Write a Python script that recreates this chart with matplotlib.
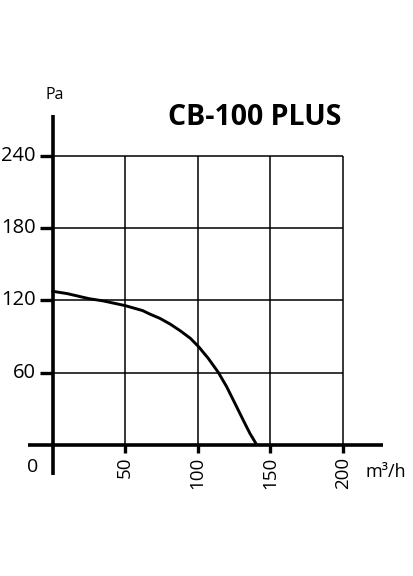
import matplotlib
matplotlib.use("Agg")
import matplotlib.pyplot as plt

# fan curve
flow = [0, 10, 25, 35, 50, 62, 67, 74, 81, 88, 95, 100.7, 107.3, 114.2,
        120, 125.7, 131.4, 136, 140.7]
pressure = [127.5, 125.6, 121.4, 119.5, 115.6, 111.5, 108.6, 105.0, 100.3, 94.7,
            88.4, 81.4, 71.8, 60.2, 48.2, 34.4, 20.5, 9.5, 0]

x_ticks = [50, 100, 150, 200]
y_ticks = [60, 120, 180, 240]
title = "CB-100 PLUS"

plt.rcParams["font.family"] = ["Open Sans", "DejaVu Sans"]

fig = plt.figure(figsize=(4.14, 5.76), dpi=100)
ax = fig.add_axes([0, 0, 1, 1])
ax.set_xlim(-36.3, 249.2)
ax.set_ylim(-109.1, 369.6)
ax.axis("off")

# grid
for xv in x_ticks:
    ax.plot([xv, xv], [0, 240], color="black", lw=1.1, solid_capstyle="butt")
for yv in y_ticks:
    ax.plot([0, 200], [yv, yv], color="black", lw=1.1, solid_capstyle="butt")

# axes lines
ax.plot([0, 0], [-25, 274], color="black", lw=2.6, solid_capstyle="butt")
ax.plot([-17, 228], [0, 0], color="black", lw=2.6, solid_capstyle="butt")

# tick marks
for yv in y_ticks:
    ax.plot([-9, 0], [yv, yv], color="black", lw=2.4, solid_capstyle="butt")
for xv in x_ticks:
    ax.plot([xv, xv], [0, -7], color="black", lw=2.4, solid_capstyle="butt")

# curve
ax.plot(flow, pressure, color="black", lw=2.1, solid_capstyle="round",
        solid_joinstyle="round")

# labels
for yv in y_ticks:
    ax.text(-11.5, yv, str(yv), ha="right", va="center", fontsize=14.5)
ax.text(-13.5, -18.5, "0", ha="center", va="center", fontsize=14)
for xv in x_ticks:
    ax.text(xv, -10, str(xv), ha="center", va="top", rotation=90, fontsize=13.5)
ax.text(216, -23, "m³/h", ha="left", va="center", fontsize=13)
ax.text(-4.8, 291, "Pa", ha="left", va="center", fontsize=11.5)
ax.text(79.5, 272, title, ha="left", va="center", fontsize=20.5, fontweight="bold")

fig.savefig("out.png", dpi=100)
